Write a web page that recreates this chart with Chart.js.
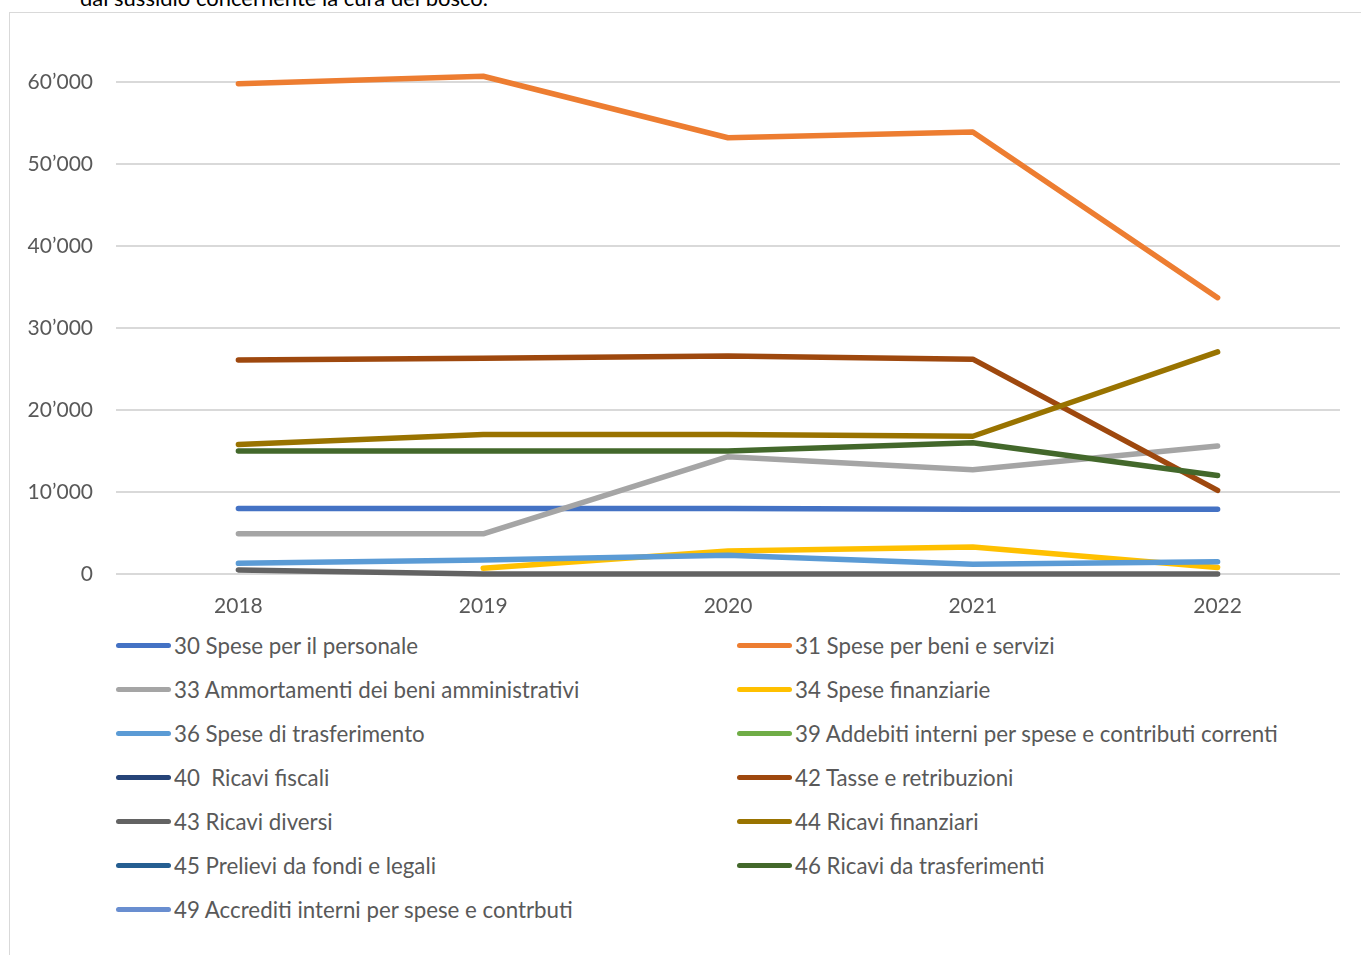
<!DOCTYPE html>
<html>
<head>
<meta charset="utf-8">
<script src="https://cdn.jsdelivr.net/npm/chart.js@4.4.1/dist/chart.umd.min.js"></script>
<style>
  body { margin: 0; background: #fff; width: 1361px; height: 955px; overflow: hidden; position: relative; font-family: Lato, "Open Sans", sans-serif; }
  #topText { position: absolute; left: 80px; top: -13px; font-size: 22px; line-height: 22px; color: #000; white-space: nowrap; }
  #frame { position: absolute; left: 9px; top: 12px; width: 1400px; height: 1000px; border: 1px solid #d9d9d9; box-sizing: border-box; }
  #wrap { position: absolute; left: 0; top: 0; width: 1361px; height: 620px; }
  #legend { position: absolute; left: 116px; top: 623px; width: 1240px; }
  .item { position: absolute; display: flex; align-items: center; height: 44px; white-space: pre; color: #595959; font-size: 22.3px; }
  .item span.sw { display: inline-block; width: 55px; height: 5px; border-radius: 3px; margin-right: 3px; }
</style>
</head>
<body>
<div id="topText">dal sussidio concernente la cura del bosco.</div>
<div id="frame"></div>
<div id="wrap"><canvas id="chart"></canvas></div>
<div id="legend"></div>
<script>
// data
const years = ['2018', '2019', '2020', '2021', '2022'];
const yTicks = [0, 10000, 20000, 30000, 40000, 50000, 60000];

const s30 = [8000, 8000, 8000, 7900, 7900];
const s31 = [59800, 60700, 53200, 53900, 33700];
const s33 = [4900, 4900, 14300, 12700, 15600];
const s34 = [null, 700, 2800, 3300, 800];
const s36 = [1300, 1700, 2300, 1200, 1500];
const s39 = [null, null, null, null, null];
const s40 = [null, null, null, null, null];
const s42 = [26100, 26300, 26600, 26200, 10200];
const s43 = [500, 0, 0, 0, 0];
const s44 = [15800, 17000, 17000, 16800, 27100];
const s45 = [null, null, null, null, null];
const s46 = [15000, 15000, 15000, 16000, 12000];
const s49 = [null, null, null, null, null];

const names = [
  '30 Spese per il personale', '31 Spese per beni e servizi',
  '33 Ammortamenti dei beni amministrativi', '34 Spese finanziarie',
  '36 Spese di trasferimento', '39 Addebiti interni per spese e contributi correnti',
  '40  Ricavi fiscali', '42 Tasse e retribuzioni',
  '43 Ricavi diversi', '44 Ricavi finanziari',
  '45 Prelievi da fondi e legali', '46 Ricavi da trasferimenti',
  '49 Accrediti interni per spese e contrbuti'
];
const values = [s30, s31, s33, s34, s36, s39, s40, s42, s43, s44, s45, s46, s49];
const colors = ['#4472C4', '#ED7D31', '#A5A5A5', '#FFC000', '#5B9BD5', '#70AD47',
  '#264478', '#9E480E', '#636363', '#997300', '#255E91', '#43682B', '#698ED0'];

const datasets = names.map((n, i) => ({
  label: n,
  data: values[i],
  borderColor: colors[i],
  backgroundColor: colors[i],
  borderWidth: 5.5,
  borderCapStyle: 'round',
  borderJoinStyle: 'round',
  pointRadius: 0,
  tension: 0,
  clip: false,
  order: names.length - i   // later series on top, like the original
}));

const fmt = v => String(v).replace(/\B(?=(\d{3})+(?!\d))/g, '\u2019');

new Chart(document.getElementById('chart'), {
  type: 'line',
  data: { labels: years, datasets },
  options: {
    responsive: true,
    maintainAspectRatio: false,
    animation: false,
    layout: { padding: { top: 82, right: 21, left: 0, bottom: 0 } },
    plugins: { legend: { display: false }, tooltip: { enabled: false } },
    scales: {
      x: {
        offset: true,
        grid: { display: false, offset: true },
        border: { display: false },
        ticks: { color: '#595959', font: { family: 'Lato', size: 21 }, padding: 12, maxRotation: 0 },
        afterFit: s => { s.height = 46; }
      },
      y: {
        min: 0, max: 60000,
        afterBuildTicks: s => { s.ticks = yTicks.map(v => ({ value: v })); },
        grid: { color: '#d9d9d9', lineWidth: 2, drawTicks: false },
        border: { display: false },
        ticks: { color: '#595959', font: { family: 'Lato', size: 21 }, padding: 23, callback: v => fmt(v) },
        afterFit: s => { s.width = 116; }
      }
    }
  }
});

// two-column legend like the original
const leg = document.getElementById('legend');
names.forEach((n, i) => {
  const d = document.createElement('div');
  d.className = 'item';
  d.style.left = (i % 2 ? 621 : 0) + 'px';
  d.style.top = (Math.floor(i / 2) * 44) + 'px';
  d.innerHTML = '<span class="sw" style="background:' + colors[i] + '"></span>' + n;
  leg.appendChild(d);
});
</script>
</body>
</html>
